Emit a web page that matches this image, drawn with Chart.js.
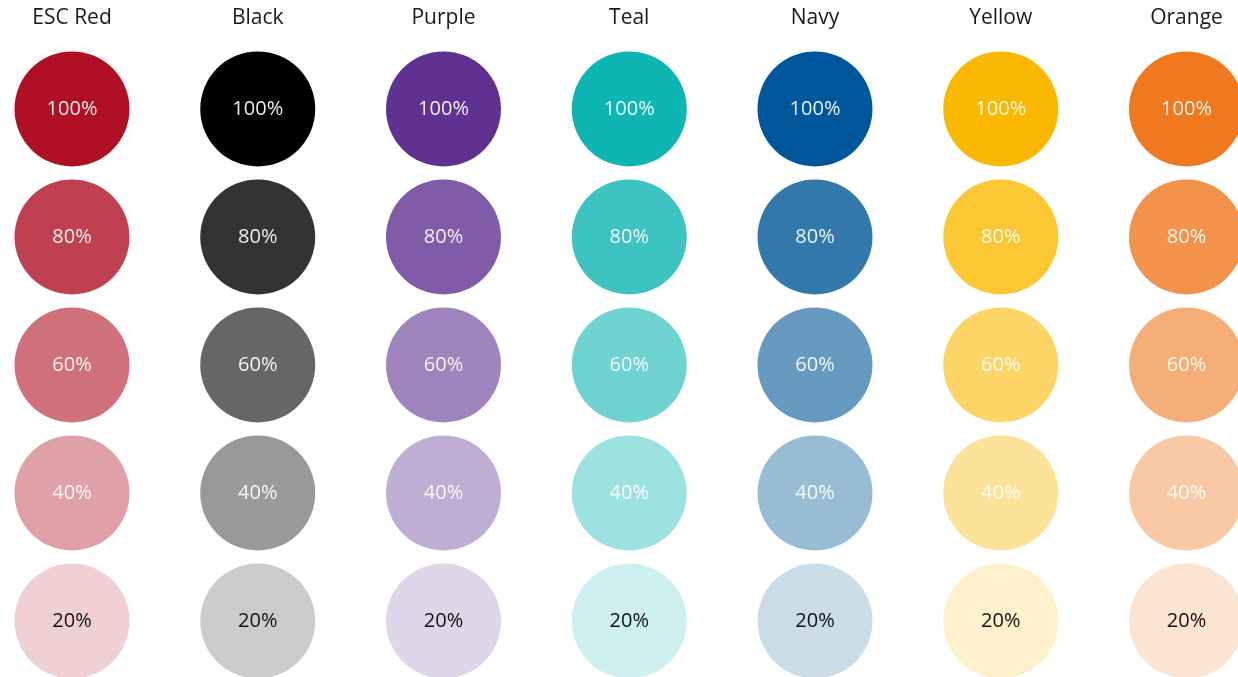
<!DOCTYPE html>
<html lang="en">
<head>
  <meta charset="UTF-8">
  <title>ESC colour tints</title>
  <style>
    html, body {
      margin: 0;
      padding: 0;
      background: #ffffff;
      overflow: hidden;
    }
    #wrap {
      width: 1238px;
      height: 677px;
    }
  </style>
</head>
<body>
  <div id="wrap">
    <canvas id="swatchChart" width="1238" height="677"></canvas>
  </div>

  <script src="https://cdn.jsdelivr.net/npm/chart.js"></script>
  <script>
    // palette names (columns) and tint levels (rows)
    const colourNames = ['ESC Red', 'Black', 'Purple', 'Teal', 'Navy', 'Yellow', 'Orange'];
    const tintLevels = [100, 80, 60, 40, 20];
    const tintLabels = ['100%', '80%', '60%', '40%', '20%'];

    // fill colour of each circle, one list per palette, 100% -> 20%
    const escRed = ['#AF1023', '#BF404F', '#CF707B', '#DFA0A7', '#EFD0D3'];
    const black  = ['#000000', '#333333', '#666666', '#999999', '#CCCCCC'];
    const purple = ['#5F3292', '#7F5BA8', '#9F84BE', '#BFADD3', '#DFD6E9'];
    const teal   = ['#0DB5B3', '#3DC4C2', '#6ED3D1', '#9EE1E1', '#CFF0F0'];
    const navy   = ['#00569A', '#3378AB', '#669AC0', '#99BCD5', '#CCDDEA'];
    const yellow = ['#FAB900', '#FBC733', '#FCD566', '#FDE399', '#FEF1CC'];
    const orange = ['#F0781E', '#F3934B', '#F6AE78', '#F9C9A5', '#FCE4D2'];
    const palettes = [escRed, black, purple, teal, navy, yellow, orange];

    const datasets = colourNames.map((name, i) => ({
      label: name,
      data: tintLevels.map(t => ({ x: i, y: t })),
      backgroundColor: palettes[i],
      borderWidth: 0,
      pointRadius: 57.5,
      pointHoverRadius: 57.5
    }));

    // draw percentages inside circles and palette names above columns
    const swatchText = {
      id: 'swatchText',
      afterDatasetsDraw(chart) {
        const c = chart.ctx;
        c.save();
        c.textAlign = 'center';
        c.textBaseline = 'middle';
        chart.data.datasets.forEach((ds, i) => {
          const meta = chart.getDatasetMeta(i);
          c.font = '21px "Open Sans", sans-serif';
          c.fillStyle = '#1a1a1a';
          c.fillText(ds.label, meta.data[0].x, 18);
          c.font = '20px "Open Sans", sans-serif';
          meta.data.forEach((pt, j) => {
            c.fillStyle = j === tintLevels.length - 1 ? '#111111' : 'rgba(255,255,255,0.92)';
            c.fillText(tintLabels[j], pt.x, pt.y);
          });
        });
        c.restore();
      }
    };

    new Chart(document.getElementById('swatchChart'), {
      type: 'scatter',
      data: { datasets: datasets },
      options: {
        responsive: false,
        animation: false,
        events: [],
        layout: { padding: 0, autoPadding: false },
        scales: {
          x: { display: false, min: -0.3876, max: 6.2773 },
          y: { display: false, min: 11.25, max: 117.03 }
        },
        plugins: {
          legend: { display: false },
          tooltip: { enabled: false }
        }
      },
      plugins: [swatchText]
    });
  </script>
</body>
</html>
